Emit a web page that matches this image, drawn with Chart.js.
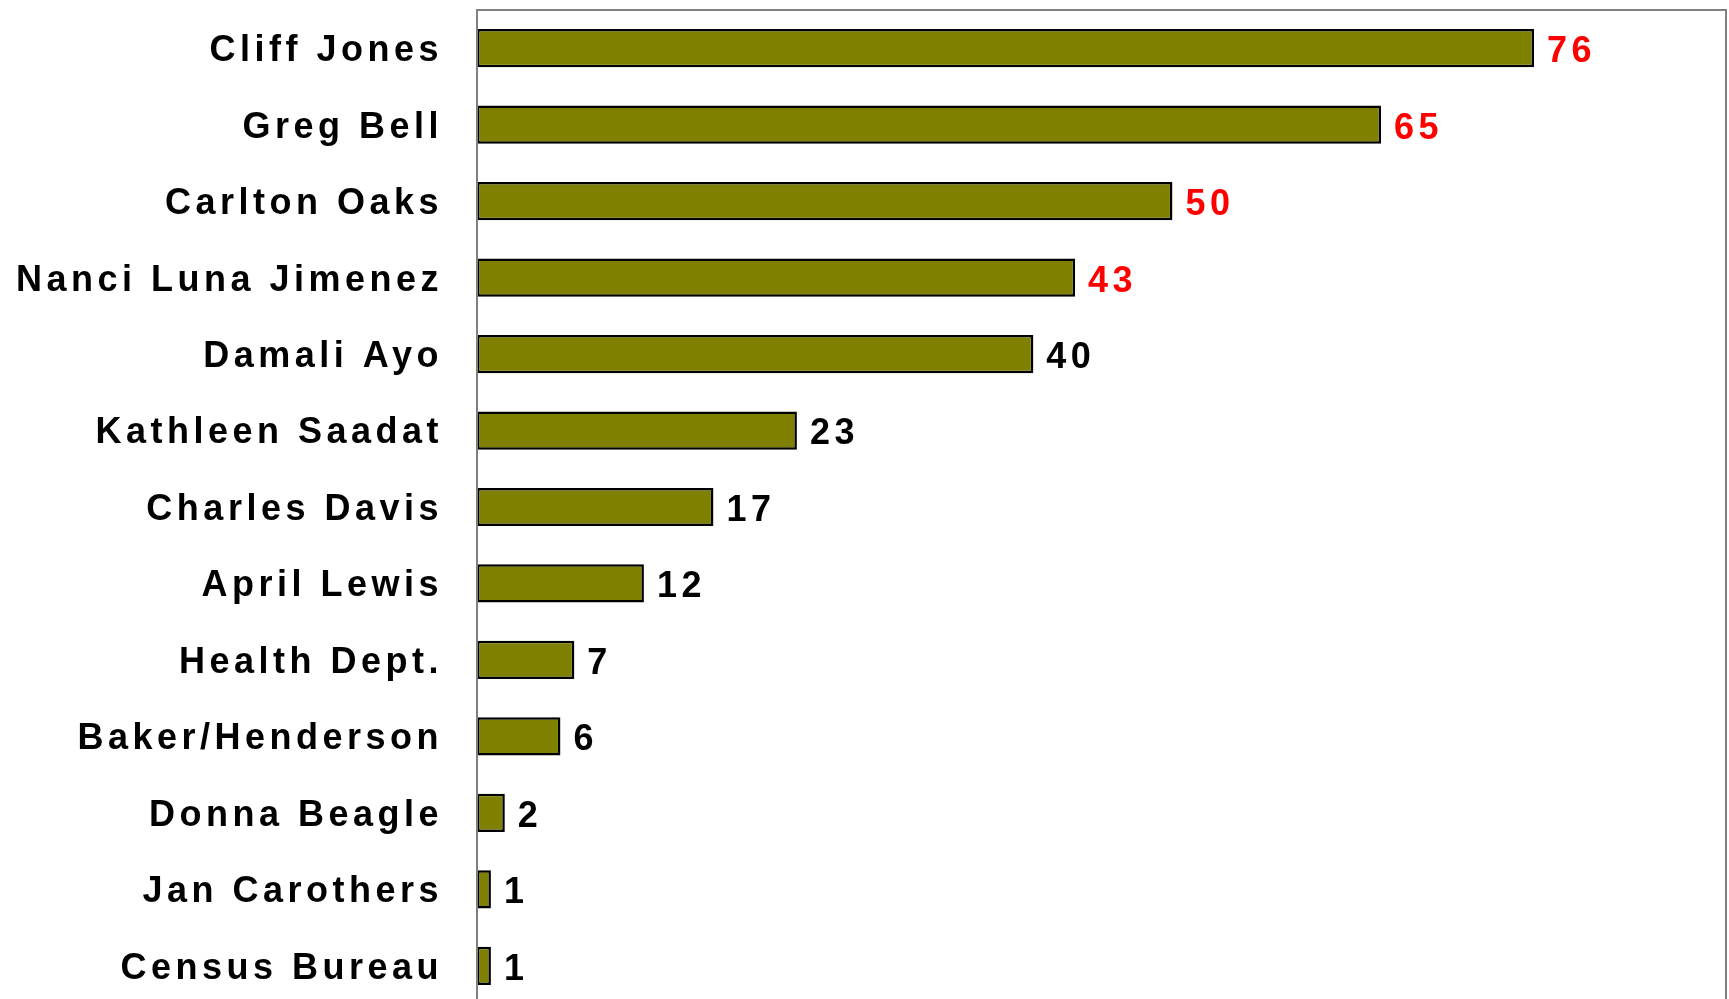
<!DOCTYPE html>
<html>
<head>
<meta charset="utf-8">
<script src="https://cdn.jsdelivr.net/npm/chart.js@4/dist/chart.umd.min.js"></script>
<style>
  html, body { margin: 0; padding: 0; background: #fff; overflow: hidden; }
  #wrap { width: 1729px; height: 1004px; }
</style>
</head>
<body>
<div id="wrap"><canvas id="c" width="1729" height="1004"></canvas></div>
<script>
const categories = [
  "Cliff Jones", "Greg Bell", "Carlton Oaks", "Nanci Luna Jimenez", "Damali Ayo",
  "Kathleen Saadat", "Charles Davis", "April Lewis", "Health Dept.", "Baker/Henderson",
  "Donna Beagle", "Jan Carothers", "Census Bureau"
];
const values = [76, 65, 50, 43, 40, 23, 17, 12, 7, 6, 2, 1, 1];
const labelColors = ["#FF0000", "#FF0000", "#FF0000", "#FF0000", "#000000", "#000000",
  "#000000", "#000000", "#000000", "#000000", "#000000", "#000000", "#000000"];
const xMin = 0;
const xMax = 89.8;

const FONT = "'Liberation Sans', Arial, sans-serif";
const SPACING = "4.5px";

const spacingPlugin = {
  id: 'spacing',
  beforeDraw(chart) { chart.ctx.letterSpacing = SPACING; }
};

const borderPlugin = {
  id: 'areaBorder',
  afterDraw(chart) {
    const { ctx, chartArea: a } = chart;
    ctx.save();
    ctx.strokeStyle = '#808080';
    ctx.lineWidth = 2;
    ctx.strokeRect(a.left, a.top, a.right - a.left, a.bottom - a.top);
    ctx.restore();
  }
};

const valueLabels = {
  id: 'valueLabels',
  afterDatasetsDraw(chart) {
    const { ctx } = chart;
    const meta = chart.getDatasetMeta(0);
    ctx.save();
    ctx.letterSpacing = SPACING;
    ctx.font = "bold 36px " + FONT;
    ctx.textAlign = 'left';
    ctx.textBaseline = 'middle';
    meta.data.forEach((bar, i) => {
      ctx.fillStyle = labelColors[i];
      ctx.fillText(String(values[i]), bar.x + 13, bar.y + 4);
    });
    ctx.restore();
  }
};

new Chart(document.getElementById('c'), {
  type: 'bar',
  data: {
    labels: categories,
    datasets: [{
      data: values,
      backgroundColor: '#808000',
      borderColor: '#000000',
      borderWidth: 2.5,
      borderSkipped: false,
      barPercentage: 0.5,
      categoryPercentage: 1.0
    }]
  },
  options: {
    indexAxis: 'y',
    responsive: false,
    animation: false,
    events: [],
    layout: { padding: { top: 10, right: 3, bottom: 0, left: 0 } },
    plugins: { legend: { display: false }, tooltip: { enabled: false }, title: { display: false } },
    scales: {
      x: {
        display: false,
        min: xMin,
        max: xMax
      },
      y: {
        afterFit(s) { s.width = 477; s.paddingTop = 0; s.paddingBottom = 0; },
        grid: { display: false, drawTicks: false },
        border: { display: false },
        ticks: {
          color: '#000000',
          padding: 34,
          labelOffset: 3,
          font: { family: FONT, size: 36, weight: 'bold' }
        }
      }
    }
  },
  plugins: [spacingPlugin, valueLabels, borderPlugin]
});
</script>
</body>
</html>
